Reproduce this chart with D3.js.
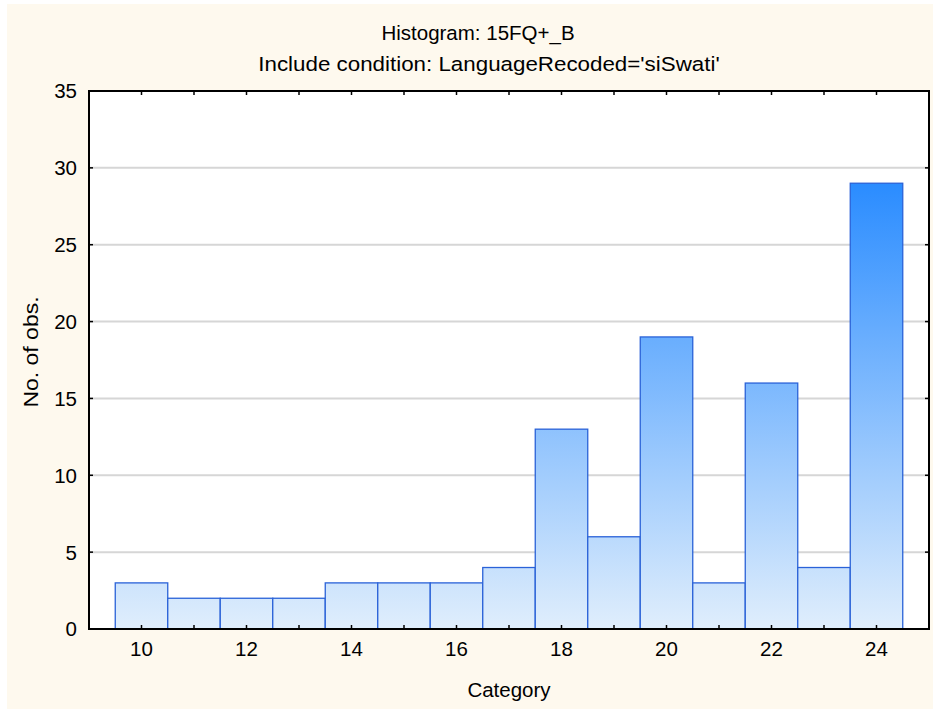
<!DOCTYPE html>
<html><head><meta charset="utf-8">
<script src="https://cdn.jsdelivr.net/npm/d3@7"></script>
<style>html,body{margin:0;padding:0;background:#fff;}svg{display:block;font-family:"Liberation Sans",Arial,sans-serif;}</style>
</head><body>
<script>
const categories = [10,11,12,13,14,15,16,17,18,19,20,21,22,23,24];
const counts = [3,2,2,2,3,3,3,4,13,6,19,3,16,4,29];
const xTickLabels = [10,12,14,16,18,20,22,24];
const yTicks = [0,5,10,15,20,25,30,35];
const titleText = "Histogram: 15FQ+_B";
const subtitleText = "Include condition: LanguageRecoded='siSwati'";
const xTitle = "Category";
const yTitle = "No. of obs.";

const W = 933, H = 709;
const FS = 20.5;
const m = {left: 89, right: 929, top: 91, bottom: 629};
const svg = d3.select("body").append("svg").attr("width", W).attr("height", H);
svg.append("rect").attr("x",0).attr("y",0).attr("width",W).attr("height",H).attr("fill","#ffffff");
svg.append("rect").attr("x",7).attr("y",4).attr("width",W-7).attr("height",H-4).attr("fill","#fef9ee");

const x = d3.scaleLinear().domain([9,25]).range([m.left, m.right]);
const y = d3.scaleLinear().domain([0,35]).range([m.bottom, m.top]);

svg.append("rect").attr("x",m.left).attr("y",m.top).attr("width",m.right-m.left).attr("height",m.bottom-m.top).attr("fill","#ffffff");

// gridlines
svg.append("g").selectAll("line").data(yTicks.filter(d=>d>0 && d<35)).join("line")
  .attr("x1",m.left).attr("x2",m.right).attr("y1",d=>y(d)).attr("y2",d=>y(d))
  .attr("stroke","#d6d6d6").attr("stroke-width",2);

// gradient
const defs = svg.append("defs");
const grad = defs.append("linearGradient").attr("id","bg").attr("gradientUnits","userSpaceOnUse")
  .attr("x1",0).attr("x2",0).attr("y1",y(0)).attr("y2",y(d3.max(counts)));
grad.append("stop").attr("offset","0%").attr("stop-color","#e0eefc");
grad.append("stop").attr("offset","100%").attr("stop-color","#2a8cff");

svg.append("g").selectAll("rect").data(categories.map((c,i)=>({c, v: counts[i]}))).join("rect")
  .attr("x", d=>x(d.c-0.5)).attr("width", d=>x(d.c+0.5)-x(d.c-0.5))
  .attr("y", d=>y(d.v)).attr("height", d=>y(0)-y(d.v))
  .attr("fill","url(#bg)").attr("stroke","#2a62d8").attr("stroke-width",1.3);

// ticks
const tk = svg.append("g").attr("stroke","#000").attr("stroke-width",1.5);
categories.forEach(c=>{
  tk.append("line").attr("x1",x(c)).attr("x2",x(c)).attr("y1",m.bottom).attr("y2",m.bottom-4);
  tk.append("line").attr("x1",x(c)).attr("x2",x(c)).attr("y1",m.top).attr("y2",m.top+4);
});
yTicks.forEach(t=>{
  tk.append("line").attr("x1",m.left).attr("x2",m.left+4).attr("y1",y(t)).attr("y2",y(t));
  tk.append("line").attr("x1",m.right).attr("x2",m.right-4).attr("y1",y(t)).attr("y2",y(t));
});

// frame
svg.append("rect").attr("x",m.left).attr("y",m.top).attr("width",m.right-m.left).attr("height",m.bottom-m.top)
  .attr("fill","none").attr("stroke","#000").attr("stroke-width",2);

// tick labels
svg.append("g").selectAll("text").data(xTickLabels).join("text")
  .attr("x",d=>x(d)).attr("y",656).attr("text-anchor","middle")
  .attr("font-size",FS).attr("fill","#000").text(d=>d);
svg.append("g").selectAll("text").data(yTicks).join("text")
  .attr("x",77).attr("y",d=>y(d)).attr("dy","0.36em").attr("text-anchor","end")
  .attr("font-size",FS).attr("fill","#000").text(d=>d);

// titles
svg.append("text").attr("x",478).attr("y",40).attr("text-anchor","middle").attr("font-size",FS).text(titleText);
const sub = svg.append("text").attr("x",489).attr("y",71).attr("text-anchor","middle").attr("font-size",FS).text(subtitleText);
const sw = sub.node().getComputedTextLength();
sub.attr("textLength", sw*1.09).attr("lengthAdjust","spacingAndGlyphs");
svg.append("text").attr("x",(m.left+m.right)/2).attr("y",697).attr("text-anchor","middle").attr("font-size",FS).text(xTitle);
const yl = svg.append("text").attr("transform",`translate(38,352) rotate(-90)`).attr("text-anchor","middle").attr("font-size",FS).text(yTitle);
const yw = yl.node().getComputedTextLength();
yl.attr("textLength", yw*1.12).attr("lengthAdjust","spacingAndGlyphs");
</script>
</body></html>
